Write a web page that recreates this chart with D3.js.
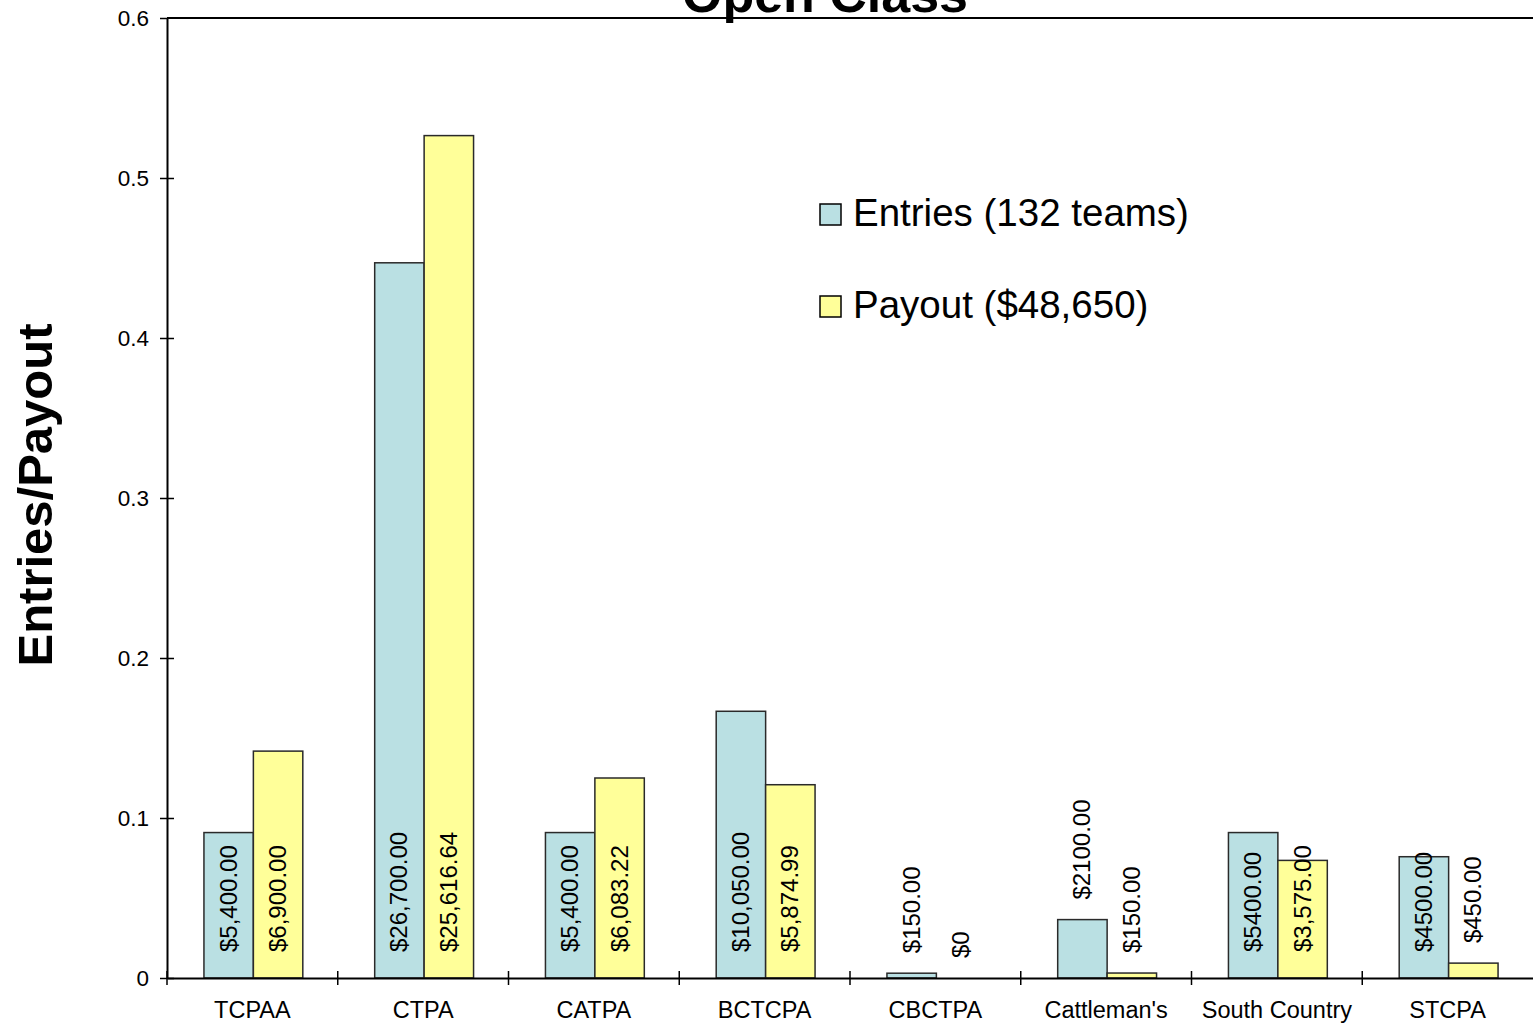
<!DOCTYPE html>
<html><head><meta charset="utf-8">
<script src="https://cdn.jsdelivr.net/npm/d3@7"></script>
<style>
html,body{margin:0;padding:0;background:#fff;}
svg{display:block;font-family:"Liberation Sans",Arial,sans-serif;}
</style></head>
<body>
<svg id="chart" width="1533" height="1026"></svg>
<script>
const categories = ["TCPAA","CTPA","CATPA","BCTCPA","CBCTPA","Cattleman's","South Country","STCPA"];
const entries = [0.0909, 0.447, 0.0909, 0.1667, 0.003, 0.0365, 0.0909, 0.0758];
const payout  = [0.1418, 0.5265, 0.1250, 0.1208, 0, 0.0031, 0.0735, 0.0093];
const entryLabels  = ["$5,400.00","$26,700.00","$5,400.00","$10,050.00","$150.00","$2100.00","$5400.00","$4500.00"];
const payoutLabels = ["$6,900.00","$25,616.64","$6,083.22","$5,874.99","$0","$150.00","$3,575.00","$450.00"];
const seriesNames = ["Entries (132 teams)","Payout ($48,650)"];
const yTicks = [0,0.1,0.2,0.3,0.4,0.5,0.6];
const colors = ["#bae0e3","#ffff99"];
const title = "Open Class";
const yTitle = "Entries/Payout";

const svg = d3.select("#chart");
const mLeft = 167, mRight = 1533, mTop = 18, mBottom = 978;

const x = d3.scaleBand().domain(categories).range([mLeft, mRight]).paddingInner(0).paddingOuter(0);
const x1 = d3.scaleBand().domain([0,1]).range([0, x.bandwidth()]).paddingOuter(0.7272).paddingInner(0);
const y = d3.scaleLinear().domain([0, 0.6]).range([mBottom, mTop]);

// top border
svg.append("line").attr("x1", mLeft).attr("x2", mRight).attr("y1", y(0.6)).attr("y2", y(0.6))
  .attr("stroke","#000").attr("stroke-width",2);

// bars
const series = [entries, payout];
const labels = [entryLabels, payoutLabels];
series.forEach((vals, si) => {
  svg.append("g").selectAll("rect").data(vals).join("rect")
    .attr("x", (d,i) => x(categories[i]) + x1(si) + 1)
    .attr("width", x1.bandwidth())
    .attr("y", d => y(d))
    .attr("height", d => y(0) - y(d))
    .attr("fill", colors[si])
    .attr("stroke", d => d > 0 ? "#2a2a2a" : "none")
    .attr("stroke-width", 1.5);
});

// y axis
const yAxis = d3.axisLeft(y).tickValues(yTicks).tickFormat(d => d === 0 ? "0" : d3.format(".1f")(d))
  .tickSizeInner(7).tickSizeOuter(0).tickPadding(11);
const gy = svg.append("g").attr("transform", `translate(${mLeft},0)`).call(yAxis);
gy.select(".domain").attr("stroke","#000").attr("stroke-width",2);
gy.selectAll(".tick line").attr("stroke","#000").attr("stroke-width",1.5).attr("x2",7).attr("x1",-7);
gy.selectAll(".tick").filter(d => d === 0.6).select("line").attr("x2",0);
gy.selectAll(".tick text").attr("font-size",22.5).attr("fill","#000")
  .attr("font-family","'Liberation Sans',Arial,sans-serif");

// x axis
const xAxis = d3.axisBottom(x).tickSize(0).tickPadding(23);
const gx = svg.append("g").attr("transform", `translate(0,${mBottom})`).call(xAxis);
gx.select(".domain").attr("stroke","#000").attr("stroke-width",2);
gx.selectAll(".tick text").attr("font-size",23.5).attr("fill","#000")
  .attr("font-family","'Liberation Sans',Arial,sans-serif");
// boundary ticks
svg.append("g").selectAll("line").data(categories).join("line")
  .attr("x1", d => x(d)).attr("x2", d => x(d))
  .attr("y1", mBottom - 7).attr("y2", mBottom + 7)
  .attr("stroke","#000").attr("stroke-width",1.5);

// data labels
series.forEach((vals, si) => {
  svg.append("g").selectAll("text").data(vals).join("text")
    .attr("transform", (d,i) => {
      const cx = x(categories[i]) + x1(si) + x1.bandwidth()/2 + 9;
      const h = y(0) - y(d);
      const ty = h > 90 ? y(0) - 26 : y(d) - 20;
      return `translate(${cx},${ty}) rotate(-90)`;
    })
    .attr("text-anchor","start")
    .attr("font-size",24)
    .attr("fill","#000")
    .text((d,i) => labels[si][i]);
});

// title
svg.append("text").attr("x", 825).attr("y", 12).attr("text-anchor","middle")
  .attr("font-size",52).attr("font-weight","bold").text(title);

// y title
svg.append("text").attr("transform","translate(52,495) rotate(-90)").attr("text-anchor","middle")
  .attr("font-size",49).attr("font-weight","bold").text(yTitle);

// legend
const lg = svg.append("g");
seriesNames.forEach((name, i) => {
  const ly = 225 + i * 92;
  lg.append("rect").attr("x", 820).attr("y", ly - 21).attr("width", 21).attr("height", 21)
    .attr("fill", colors[i]).attr("stroke","#000").attr("stroke-width",1.5);
  lg.append("text").attr("x", 853).attr("y", ly + 1).attr("font-size",38.5).text(name);
});
</script>
</body></html>
